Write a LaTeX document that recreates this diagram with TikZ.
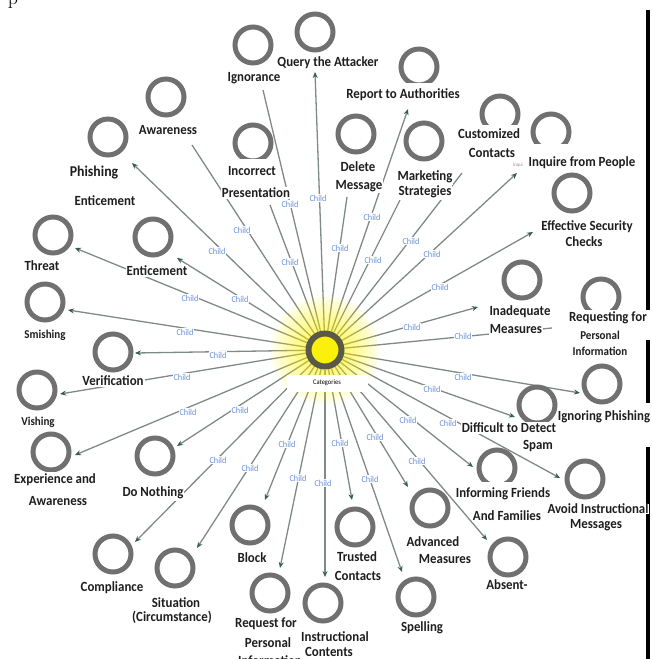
\documentclass[tikz,border=0pt]{standalone}
\usepackage{fontspec}
\usetikzlibrary{arrows.meta}
\newfontfamily\lblfont[FakeStretch=0.92]{Carlito}
\definecolor{ringcol}{RGB}{112,112,112}
\definecolor{edgecol}{RGB}{128,138,132}
\definecolor{tipcol}{RGB}{55,95,80}
\definecolor{childcol}{RGB}{105,145,215}
\definecolor{hubring}{RGB}{90,88,70}
\definecolor{hubfill}{RGB}{250,240,10}
\definecolor{txtcol}{RGB}{30,30,30}
\pgfdeclarelayer{edgelayer}
\pgfdeclarelayer{glowlayer}
\pgfsetlayers{edgelayer,glowlayer,main}
\begin{document}
\begin{tikzpicture}[x=1pt,y=-1pt,
  ring/.style={circle,draw=ringcol,line width=5pt,minimum size=36pt,inner sep=0pt,fill=white},
  hub/.style={circle,draw=hubring,fill=hubfill,line width=6pt,minimum size=33pt,inner sep=0pt},
  edge/.style={draw=edgecol,line width=1.3pt},
  arr/.style={-{Stealth[length=6pt,width=5pt,color=tipcol]}},
  lbl/.style={font={\lblfont\bfseries\fontsize{14}{16}\selectfont},fill=white,inner xsep=1pt,inner ysep=1.5pt,text=txtcol},
  smallfont/.style={font={\lblfont\bfseries\fontsize{12}{14}\selectfont}},
  bigfont/.style={font={\lblfont\bfseries\fontsize{15}{17}\selectfont}},
  childlbl/.style={font={\lblfont\fontsize{9}{10}\selectfont},text=childcol,fill=white,inner sep=0.4pt},
  catbox/.style={fill=white,minimum width=81pt,minimum height=17pt,inner sep=0pt,font={\lblfont\fontsize{7}{8}\selectfont}},
  bar/.style={draw=black,line width=4pt}
]
\useasboundingbox (0,0) rectangle (651,659);

% stray glyph at top-left
\node[font=\fontsize{20}{20}\selectfont,anchor=base,inner sep=0pt] (pglyph) at (13,4) {p};

% right-hand bars
\coordinate (b1) at (648,10);
\coordinate (b2) at (648,310);
\coordinate (b3) at (648,340);
\coordinate (b4) at (648,403);
\coordinate (b5) at (648,447);
\coordinate (b6) at (648,659);
\draw[bar] (b1) -- (b2) (b3) -- (b4) (b5) -- (b6);

% concept circles
\node[ring] (kQ) at (315,32) {};
\node[ring] (kIg) at (253,45) {};
\node[ring] (kAw) at (166,97) {};
\node[ring] (kPh) at (108,137) {};
\node[ring] (kIP) at (253,143) {};
\node[ring] (kTh) at (53,235) {};
\node[ring] (kEn) at (153,237) {};
\node[ring] (kSm) at (45,302) {};
\node[ring] (kVe) at (113,352) {};
\node[ring] (kVi) at (37,390) {};
\node[ring] (kEx) at (51,452) {};
\node[ring] (kDN) at (155,456) {};
\node[ring] (kCo) at (113,554) {};
\node[ring] (kSi) at (175,568) {};
\node[ring] (kBl) at (250,525) {};
\node[ring] (kRP) at (270,593) {};
\node[ring] (kIC) at (323,603) {};
\node[ring] (kTC) at (355,527) {};
\node[ring] (kSp) at (416,597) {};
\node[ring] (kAM) at (430,508) {};
\node[ring] (kAb) at (508,557) {};
\node[ring] (kIF) at (497,468) {};
\node[ring] (kAI) at (585,479) {};
\node[ring] (kDD) at (537,405) {};
\node[ring] (kIPh) at (602,384) {};
\node[ring] (kRq) at (601,297) {};
\node[ring] (kIn) at (522,280) {};
\node[ring] (kEf) at (572,193) {};
\node[ring] (kIq) at (551,132) {};
\node[ring] (kCu) at (500,114) {};
\node[ring] (kMS) at (424,141) {};
\node[ring] (kDM) at (356,134) {};
\node[ring] (kRA) at (419,67) {};

% hub
\node[hub] (c) at (325,350) {};

% edge end points
\coordinate (tQ) at (315,72);
\coordinate (tIg) at (263,90);
\coordinate (tIP) at (270,205);
\coordinate (tAw) at (192,145);
\coordinate (tPh) at (132,163);
\coordinate (tEn) at (177,258);
\coordinate (tTh) at (75,248);
\coordinate (tSm) at (68,310);
\coordinate (tVe) at (135,353);
\coordinate (tVi) at (60,394);
\coordinate (tEx) at (75,455);
\coordinate (tDN) at (177,446);
\coordinate (tCo) at (135,542);
\coordinate (tSi) at (197,548);
\coordinate (tBl) at (265,500);
\coordinate (tRP) at (280,568);
\coordinate (tIC) at (325,577);
\coordinate (tTC) at (352,500);
\coordinate (tSp) at (402,572);
\coordinate (tAM) at (408,487);
\coordinate (tAb) at (487,540);
\coordinate (tIF) at (473,467);
\coordinate (tAI) at (560,478);
\coordinate (tDD) at (515,417);
\coordinate (tIPh) at (580,393);
\coordinate (tRq) at (552,328);
\coordinate (tIn) at (478,307);
\coordinate (tEf) at (533,232);
\coordinate (tIq) at (517,173);
\coordinate (tCu) at (462,173);
\coordinate (tMS) at (400,200);
\coordinate (tRA) at (408,109);
\coordinate (tDM) at (347,197);

\begin{pgfonlayer}{edgelayer}
\foreach \t in {tQ,tPh,tEn,tTh,tSm,tVe,tVi,tEx,tDN,tCo,tSi,tBl,tRP,tIC,tTC,tSp,tAM,tAb,tIF,tAI,tDD,tIPh,tIn,tEf,tIq,tRA}
  \draw[edge,arr] (c) -- (\t);
\foreach \t in {tIg,tIP,tAw,tRq,tCu,tMS,tDM}
  \draw[edge] (c) -- (\t);
\end{pgfonlayer}

\begin{pgfonlayer}{glowlayer}
\foreach \r in {54,50,...,18}
  \fill[yellow,opacity=0.08] (c.center) circle[radius=\r pt];
\end{pgfonlayer}

% Child labels
\foreach \p [count=\i] in {(318,198),(290,204),(290,262),(242,230),(217,251),(240,299),(190,298),(185,332),(218,355),(182,377),(188,412),(240,410),(218,460),(250,468),(287,444),(298,478),(323,483),(340,443),(370,479),(375,437),(417,461),(408,420),(448,423),(432,389),(463,377),(463,336),(412,327),(440,287),(432,254),(411,241),(373,260),(372,217),(340,248)}
  \node[childlbl] (ch\i) at \p {Child};

% labels
\node[lbl] (lQ) at (328,63) {Query the Attacker};
\node[lbl] (lIg) at (254,78) {Ignorance};
\node[lbl] (lAw) at (168,130) {Awareness};
\node[lbl,bigfont] (lPh1) at (94,173) {Phishing};
\node[lbl] (lPh2) at (105,201) {Enticement};
\node[lbl,anchor=base,text height=15.5pt] (lIP1) at (252,175.5) {Incorrect};
\node[lbl] (lIP2) at (256,193) {Presentation};
\node[lbl] (lTh) at (42,266) {Threat};
\node[lbl] (lEn) at (157,271) {Enticement};
\node[lbl,smallfont] (lSm) at (45,335) {Smishing};
\node[lbl] (lVe) at (113,381) {Verification};
\node[lbl,smallfont] (lVi) at (38,422) {Vishing};
\node[lbl] (lEx1) at (55,480) {Experience and};
\node[lbl] (lEx2) at (58,501) {Awareness};
\node[lbl] (lDN) at (153,493) {Do Nothing};
\node[lbl] (lCo) at (112,588) {Compliance};
\node[lbl] (lSi1) at (176,603) {Situation};
\node[lbl] (lSi2) at (172,617) {(Circumstance)};
\node[lbl] (lBl) at (252,558) {Block};
\node[lbl] (lRP1) at (266,624) {Request for};
\node[lbl] (lRP2) at (268,643) {Personal};
\node[lbl] (lRP3) at (270,661) {Information};
\node[lbl] (lIC1) at (335,637) {Instructional};
\node[lbl] (lIC2) at (329,652) {Contents};
\node[lbl] (lTC1) at (357,557) {Trusted};
\node[lbl] (lTC2) at (358,576) {Contacts};
\node[lbl] (lSp) at (422,628) {Spelling};
\node[lbl] (lAM1) at (433,542) {Advanced};
\node[lbl] (lAM2) at (445,559) {Measures};
\node[lbl] (lAb) at (507,585) {Absent-};
\node[lbl,anchor=base,text height=14pt] (lIF1) at (503,497.5) {Informing Friends};
\node[lbl] (lIF2) at (507,516) {And Families};
\node[lbl,inner ysep=0.5pt] (lAI1) at (598,509) {Avoid Instructional};
\node[lbl,inner ysep=0.5pt] (lAI2) at (596,525) {Messages};
\node[lbl] (lDD1) at (509,428) {Difficult to Detect};
\node[lbl] (lDD2) at (538,446) {Spam};
\node[lbl] (lIPh) at (604,417) {Ignoring Phishing};
\node[lbl] (lRq1) at (608,318) {Requesting for};
\node[lbl,smallfont] (lRq2) at (600,335) {Personal};
\node[lbl,smallfont] (lRq3) at (600,351) {Information};
\node[lbl] (lIn1) at (520,312) {Inadequate};
\node[lbl] (lIn2) at (516,329) {Measures};
\node[lbl] (lEf1) at (587,227) {Effective Security};
\node[lbl] (lEf2) at (584,242) {Checks};
\node[lbl,anchor=base,text height=21pt] (lIq) at (582,166.5) {Inquire from People};
\node[font={\lblfont\fontsize{5}{6}\selectfont},text=black!45,inner sep=0pt] (ghost) at (518,165) {Inqui};
\node[lbl,anchor=base,text height=12pt] (lCu1) at (489,138.5) {Customized};
\node[lbl] (lCu2) at (492,153) {Contacts};
\node[lbl] (lMS1) at (425,177) {Marketing};
\node[lbl] (lMS2) at (425,192) {Strategies};
\node[lbl] (lDM1) at (358,167) {Delete};
\node[lbl] (lDM2) at (359,186) {Message};
\node[lbl,anchor=base,text height=14pt] (lRA) at (403,98.5) {Report to Authorities};

% hub caption
\node[catbox] (cat) at (327,383) {Categories};
\end{tikzpicture}
\end{document}
